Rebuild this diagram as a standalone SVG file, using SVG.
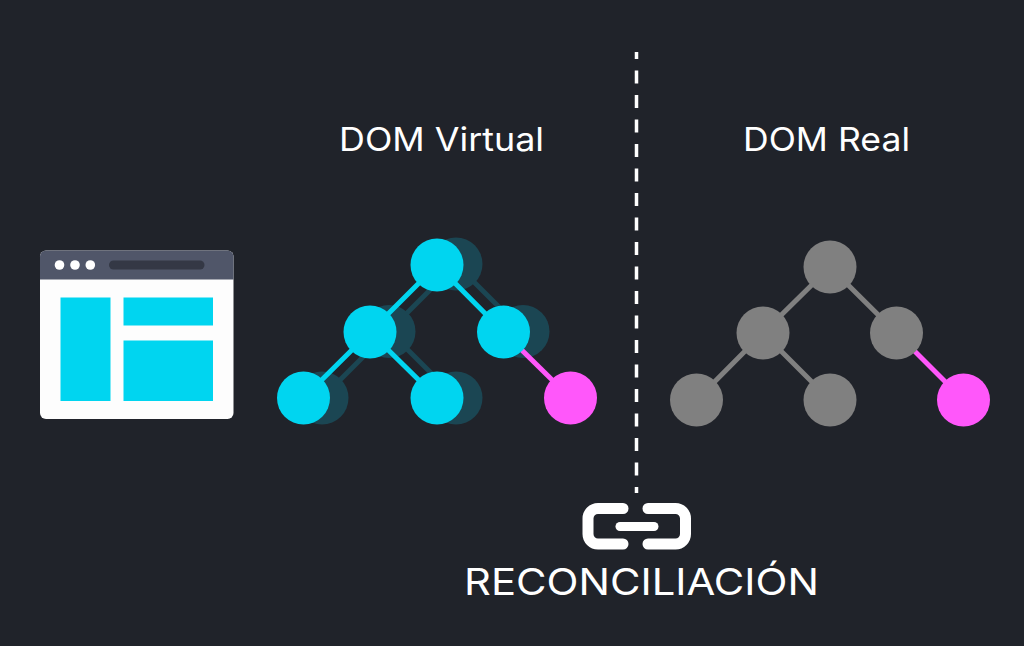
<svg xmlns="http://www.w3.org/2000/svg" width="1024" height="646" viewBox="0 0 1024 646">
<style>
.t{font-family:"Inter","Noto Sans","Liberation Sans",sans-serif;fill:#fff;font-weight:400}
.c{fill:#00d5f0}.s{fill:#1b4653}.g{fill:#808080}.p{fill:#ff57fa}
.lc{stroke:#00d5f0;stroke-width:5;fill:none}.ls{stroke:#1b4653;stroke-width:5;fill:none}.lg{stroke:#808080;stroke-width:5;fill:none}.lp{stroke:#ff57fa;stroke-width:5;fill:none}
</style>
<rect width="1024" height="646" fill="#20232a"/>
<g id="divider"><path d="M636.500 52V493" stroke="#fff" stroke-width="3.500" stroke-dasharray="13 11.500" stroke-dashoffset="6" fill="none"/></g>
<g id="browser">
<rect x="40" y="250.500" width="193.500" height="168.500" rx="6" fill="#fdfdfd"/>
<path d="M40 279.500V256.500a6 6 0 0 1 6-6H227.500a6 6 0 0 1 6 6V279.500Z" fill="#505669"/>
<circle cx="59.500" cy="265" r="4.800" fill="#fff"/><circle cx="75" cy="265" r="4.800" fill="#fff"/><circle cx="90.300" cy="265" r="4.800" fill="#fff"/>
<rect x="109" y="260.500" width="95.500" height="9" rx="4.500" fill="#343845"/>
<rect x="60.500" y="297.500" width="50" height="103.500" class="c"/>
<rect x="123.500" y="297.500" width="89.500" height="28" class="c"/>
<rect x="123.500" y="340.500" width="89.500" height="60.500" class="c"/>
</g>
<g id="shadow-connectors">
<path class="ls" d="M456 264L389 331M456 264L523 331M389 331L322 398M389 331L456 398"/>
</g>
<g id="virtual-shadows"><circle cx="456" cy="264" r="26.500" class="s"/><circle cx="389" cy="331.500" r="26.500" class="s"/><circle cx="523" cy="331.500" r="26.500" class="s"/><circle cx="322" cy="398" r="26.500" class="s"/><circle cx="456" cy="398" r="26.500" class="s"/></g>
<g id="connectors">
<path class="lc" d="M437 265L370 332M437 265L503.500 332M370 332L303.500 398M370 332L437 398"/>
<path class="lp" d="M503.500 332L570.500 398"/>
<path class="lg" d="M830 267L763 333M830 267L896.500 333M763 333L696.500 400M763 333L830 400"/>
<path class="lp" d="M896.500 333L963.500 400"/>
</g>
<g id="v1"><circle cx="437" cy="265" r="26.500" class="c"/></g>
<g id="v2"><circle cx="370" cy="332" r="26.500" class="c"/></g>
<g id="v3"><circle cx="503.500" cy="332" r="26.500" class="c"/></g>
<g id="v4"><circle cx="303.500" cy="398" r="26.500" class="c"/></g>
<g id="v5"><circle cx="437" cy="398" r="26.500" class="c"/></g>
<g id="v6"><circle cx="570.500" cy="398" r="26.500" class="p"/></g>
<g id="r1"><circle cx="830" cy="267" r="26.500" class="g"/></g>
<g id="r2"><circle cx="763" cy="333" r="26.500" class="g"/></g>
<g id="r3"><circle cx="896.500" cy="333" r="26.500" class="g"/></g>
<g id="r4"><circle cx="696.500" cy="400" r="26.500" class="g"/></g>
<g id="r5"><circle cx="830" cy="400" r="26.500" class="g"/></g>
<g id="r6"><circle cx="963.500" cy="400" r="26.500" class="p"/></g>
<g id="label-virtual"><text class="t" x="339" y="151" font-size="33" textLength="205" lengthAdjust="spacingAndGlyphs">DOM Virtual</text></g>
<g id="label-real"><text class="t" x="743" y="151" font-size="33" textLength="167" lengthAdjust="spacingAndGlyphs">DOM Real</text></g>
<g id="link">
<path d="M623 508.500H598a10 10 0 0 0-10 10V534a10 10 0 0 0 10 10H623M648 508.500H675.500a10 10 0 0 1 10 10V534a10 10 0 0 1-10 10H648" fill="none" stroke="#fff" stroke-width="11" stroke-linecap="round"/>
<path d="M620 526.500H654" fill="none" stroke="#fff" stroke-width="9" stroke-linecap="round"/>
</g>
<g id="label-rec"><text class="t" x="464" y="595" font-size="37" textLength="355" lengthAdjust="spacingAndGlyphs">RECONCILIACIÓN</text></g>
</svg>
